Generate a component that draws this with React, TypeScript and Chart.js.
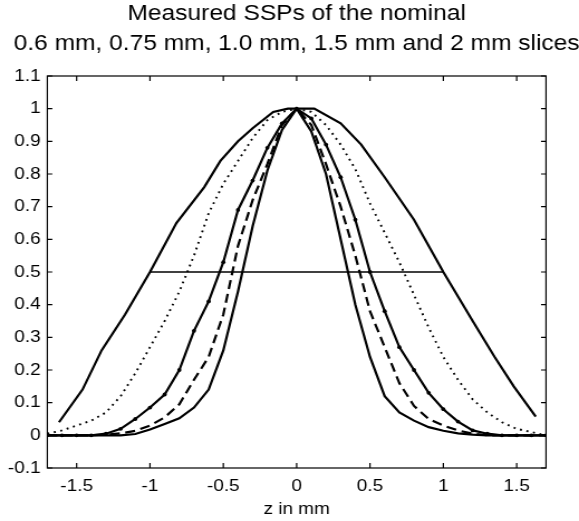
import React, { useEffect, useRef } from 'react';
import { Chart, registerables } from 'chart.js';

Chart.register(...registerables);

// ---------- data ----------
const titleLines = ['Measured SSPs of the nominal', '0.6 mm, 0.75 mm, 1.0 mm, 1.5 mm and 2 mm slices'];
const xAxisLabel = 'z in mm';
const xTicks = [-1.5, -1, -0.5, 0, 0.5, 1, 1.5];
const yTicks = [-0.1, 0, 0.1, 0.2, 0.3, 0.4, 0.5, 0.6, 0.7, 0.8, 0.9, 1, 1.1];

const zGrid = [-1.7, -1.6, -1.5, -1.4, -1.3, -1.2, -1.1, -1.0, -0.9, -0.8, -0.7, -0.6, -0.5, -0.4, -0.3, -0.2, -0.1,
  0, 0.1, 0.2, 0.3, 0.4, 0.5, 0.6, 0.7, 0.8, 0.9, 1.0, 1.1, 1.2, 1.3, 1.4, 1.5, 1.6, 1.7];

const ssp1_5mm = [0.005, 0.015, 0.03, 0.045, 0.07, 0.12, 0.19, 0.27, 0.35, 0.44, 0.55, 0.68, 0.77, 0.84, 0.91, 0.965, 0.99,
  1.0, 0.99, 0.95, 0.89, 0.815, 0.71, 0.62, 0.53, 0.43, 0.33, 0.24, 0.17, 0.11, 0.07, 0.04, 0.02, 0.01, 0.0];

const ssp1_0mm = [0, 0, 0, 0, 0.005, 0.02, 0.05, 0.085, 0.125, 0.2, 0.32, 0.41, 0.53, 0.69, 0.78, 0.88, 0.955,
  1.0, 0.97, 0.89, 0.79, 0.66, 0.5, 0.38, 0.27, 0.2, 0.13, 0.08, 0.042, 0.015, 0.005, 0, 0, 0, 0];

const ssp0_75mm = [0, 0, 0, 0, 0.002, 0.006, 0.014, 0.03, 0.055, 0.095, 0.17, 0.24, 0.37, 0.58, 0.72, 0.83, 0.95,
  1.0, 0.95, 0.83, 0.7, 0.55, 0.38, 0.27, 0.16, 0.09, 0.05, 0.03, 0.015, 0.005, 0, 0, 0, 0, 0];

const ssp0_6mm = [0, 0, 0, 0, 0, 0, 0.004, 0.018, 0.035, 0.052, 0.085, 0.14, 0.26, 0.44, 0.64, 0.81, 0.935,
  1.0, 0.93, 0.8, 0.6, 0.4, 0.24, 0.12, 0.07, 0.045, 0.025, 0.014, 0.006, 0.002, 0, 0, 0, 0, 0];

const z2mm = [-1.62, -1.46, -1.33, -1.17, -1.0, -0.82, -0.63, -0.52, -0.4, -0.3, -0.16, -0.06, 0.12,
  0.3, 0.44, 0.6, 0.8, 1.0, 1.2, 1.35, 1.48, 1.63];
const ssp2mm = [0.04, 0.14, 0.26, 0.37, 0.5, 0.65, 0.76, 0.84, 0.9, 0.94, 0.99, 1.0, 1.0,
  0.955, 0.89, 0.79, 0.66, 0.5, 0.35, 0.24, 0.15, 0.057];

const halfMaxZ = [-1, 1];
const halfMaxLevel = [0.5, 0.5];

// ---------- layout ----------
const OUT_W = 579;
const OUT_H = 521;
const CANVAS_W = 519;
const SX = OUT_W / CANVAS_W;
const FONT_FAMILY = '"Liberation Sans", Arial, Helvetica, sans-serif';

const toPoints = (xs: number[], ys: number[]) => xs.map((x, i) => ({ x, y: ys[i] }));

const framePlugin = {
  id: 'matlabFrame',
  afterDatasetsDraw(chart: any) {
    const { ctx, chartArea: a, scales } = chart;
    ctx.save();
    ctx.strokeStyle = '#000';
    ctx.lineWidth = 1.2;
    ctx.strokeRect(a.left, a.top, a.right - a.left, a.bottom - a.top);
    const tl = 5;
    ctx.beginPath();
    xTicks.forEach((v) => {
      const px = scales.x.getPixelForValue(v);
      ctx.moveTo(px, a.bottom);
      ctx.lineTo(px, a.bottom - tl);
      ctx.moveTo(px, a.top);
      ctx.lineTo(px, a.top + tl);
    });
    yTicks.forEach((v) => {
      const py = scales.y.getPixelForValue(v);
      ctx.moveTo(a.left, py);
      ctx.lineTo(a.left + tl / SX, py);
      ctx.moveTo(a.right, py);
      ctx.lineTo(a.right - tl / SX, py);
    });
    ctx.stroke();

    ctx.fillStyle = '#000';
    ctx.font = `22px ${FONT_FAMILY}`;
    ctx.textAlign = 'center';
    ctx.textBaseline = 'middle';
    const cx = (a.left + a.right) / 2;
    titleLines.forEach((t, i) => ctx.fillText(t, cx, 14 + i * 30));
    ctx.restore();
  },
};

export default function App() {
  const ref = useRef<HTMLCanvasElement | null>(null);

  useEffect(() => {
    if (!ref.current) return;
    const tickFont = { size: 17, family: FONT_FAMILY };
    const chart = new Chart(ref.current, {
      type: 'line',
      data: {
        datasets: [
          {
            label: '2 mm',
            data: toPoints(z2mm, ssp2mm),
            borderColor: '#000',
            borderWidth: 2.2,
            pointRadius: 0,
          },
          {
            label: '1.5 mm',
            data: toPoints(zGrid, ssp1_5mm),
            borderColor: '#000',
            borderWidth: 1.9,
            borderDash: [1.8, 4.2],
            pointRadius: 0,
          },
          {
            label: '1.0 mm',
            data: toPoints(zGrid, ssp1_0mm),
            borderColor: '#000',
            borderWidth: 2.2,
            pointRadius: 1.9,
            pointBackgroundColor: '#000',
            pointBorderColor: '#000',
            pointBorderWidth: 0,
          },
          {
            label: '0.75 mm',
            data: toPoints(zGrid, ssp0_75mm),
            borderColor: '#000',
            borderWidth: 2.2,
            borderDash: [9, 5],
            pointRadius: 0,
          },
          {
            label: '0.6 mm',
            data: toPoints(zGrid, ssp0_6mm),
            borderColor: '#000',
            borderWidth: 2.2,
            pointRadius: 0,
          },
          {
            label: 'FWHM',
            data: toPoints(halfMaxZ, halfMaxLevel),
            borderColor: '#000',
            borderWidth: 1.4,
            pointRadius: 0,
          },
        ],
      },
      options: {
        animation: false,
        responsive: false,
        devicePixelRatio: 1,
        elements: { line: { tension: 0 } },
        layout: { padding: { top: 76, right: CANVAS_W - 546 / SX, bottom: 0, left: 0 } },
        plugins: {
          legend: { display: false },
          tooltip: { enabled: false },
          title: { display: false },
        },
        scales: {
          x: {
            type: 'linear',
            min: -1.7,
            max: 1.7,
            afterBuildTicks: (s: any) => {
              s.ticks = xTicks.map((value) => ({ value }));
            },
            afterFit: (s: any) => {
              s.height = 53;
            },
            grid: { display: false, drawTicks: false },
            border: { display: false },
            ticks: {
              autoSkip: false,
              maxRotation: 0,
              padding: 8.5,
              color: '#000',
              font: tickFont,
              callback: (v: any) => String(v),
            },
            title: {
              display: true,
              text: xAxisLabel,
              color: '#000',
              font: tickFont,
              padding: { top: 0, bottom: 1 },
            },
          },
          y: {
            type: 'linear',
            min: -0.1,
            max: 1.1,
            afterBuildTicks: (s: any) => {
              s.ticks = yTicks.map((value) => ({ value }));
            },
            afterFit: (s: any) => {
              s.width = 47.3 / SX;
            },
            grid: { display: false, drawTicks: false },
            border: { display: false },
            ticks: {
              autoSkip: false,
              padding: 6,
              color: '#000',
              font: tickFont,
              callback: (v: any) => String(v),
            },
          },
        },
      },
      plugins: [framePlugin],
    } as any);
    return () => chart.destroy();
  }, []);

  return (
    <div style={{ position: 'absolute', left: 0, top: 0, width: OUT_W, height: OUT_H, background: '#fff' }}>
      <canvas
        ref={ref}
        width={CANVAS_W}
        height={OUT_H}
        style={{ width: `${OUT_W}px`, height: `${OUT_H}px`, display: 'block' }}
      />
    </div>
  );
}
